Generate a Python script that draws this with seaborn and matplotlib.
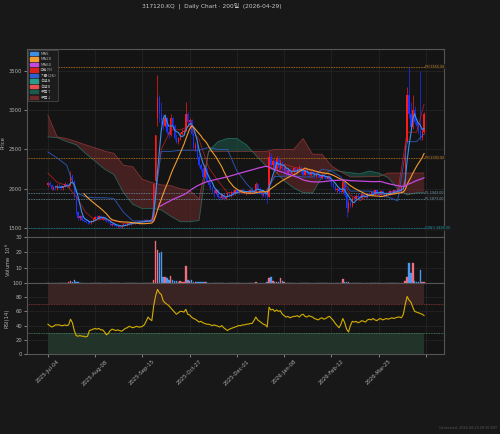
import numpy as np
import pandas as pd
import matplotlib
matplotlib.use("Agg")
import matplotlib.pyplot as plt
import seaborn as sns
from matplotlib.patches import Patch

# ---------------- data ----------------
title = "317120.KQ  |  Daily Chart · 200일  (2026-04-29)"
footer = "Generated: 2026-04-29 09:30 KST"
tick_pos = [0, 25, 50, 75, 100, 125, 150, 175, 200]
tick_labels = ["2025-Jul-04", "2025-Aug-08", "2025-Sep-15", "2025-Oct-27",
               "2025-Dec-01", "2026-Jan-08", "2026-Feb-12", "2026-Mar-25", ""]

opens = [
    2050, 2070, 2050, 2000, 2020, 2000, 2040, 2030, 2010, 2030,
    2060, 2040, 2050, 2170, 2100, 1900, 1700, 1630, 1650, 1600,
    1590, 1580, 1570, 1560, 1590, 1620, 1640, 1630, 1650, 1620,
    1640, 1600, 1580, 1570, 1540, 1550, 1540, 1520, 1530, 1510,
    1530, 1550, 1540, 1560, 1550, 1570, 1560, 1580, 1570, 1580,
    1570, 1590, 1580, 1600, 1580, 1600, 1600, 2100, 2900, 3150,
    2950, 2880, 2800, 2900, 2720, 2680, 2900, 2800, 2650, 2600,
    2640, 2700, 2720, 2740, 2950, 2850, 2880, 2700, 2520, 2560,
    2400, 2300, 2250, 2150, 2260, 2100, 2050, 2000, 1980, 1950,
    1980, 1900, 1880, 1920, 1870, 1900, 1940, 1910, 1960, 1930,
    1990, 1960, 1950, 1990, 1970, 1950, 1960, 1940, 1990, 1970,
    1950, 2060, 2000, 1960, 1920, 1950, 1920, 1900, 2400, 2300,
    2350, 2250, 2380, 2270, 2340, 2240, 2270, 2200, 2240, 2190,
    2220, 2260, 2210, 2250, 2280, 2220, 2180, 2230, 2200, 2170,
    2210, 2190, 2160, 2190, 2170, 2140, 2180, 2150, 2130, 2160,
    2110, 2060, 2030, 1990, 2000, 1970, 1960, 2080, 1920, 1760,
    1820, 1780, 1880, 1870, 1910, 1900, 1880, 1930, 1910, 1890,
    1930, 1920, 1960, 1930, 1980, 1950, 1920, 1970, 1940, 1910,
    1950, 1930, 1970, 1940, 1980, 1960, 2000, 1970, 2020, 2040,
    2600, 3200, 2950, 2780, 3000, 2850, 2800, 2740, 2650, 2720]
highs = [
    2090, 2100, 2060, 2030, 2040, 2060, 2070, 2050, 2040, 2080,
    2070, 2060, 2230, 2180, 2110, 1920, 1720, 1670, 1660, 1620,
    1610, 1600, 1590, 1600, 1630, 1650, 1660, 1670, 1660, 1650,
    1650, 1610, 1600, 1580, 1560, 1570, 1550, 1540, 1540, 1540,
    1560, 1560, 1570, 1570, 1580, 1580, 1590, 1600, 1590, 1600,
    1600, 1610, 1620, 1610, 1610, 1620, 2070, 2680, 3450, 3200,
    3100, 2950, 2950, 2920, 2780, 2950, 2910, 2820, 2700, 2660,
    2720, 2760, 2760, 3100, 2980, 2900, 2890, 2720, 2600, 2580,
    2450, 2330, 2280, 2300, 2270, 2120, 2080, 2040, 2000, 2000,
    1990, 1920, 1930, 1940, 1910, 1950, 1960, 1970, 1980, 2000,
    2010, 1980, 2000, 2010, 1990, 1970, 1980, 2000, 2020, 1990,
    2090, 2070, 2020, 1980, 1960, 1970, 1930, 2480, 2450, 2380,
    2370, 2420, 2400, 2380, 2350, 2290, 2280, 2260, 2260, 2240,
    2280, 2270, 2280, 2300, 2290, 2250, 2250, 2260, 2230, 2220,
    2240, 2210, 2200, 2210, 2190, 2200, 2200, 2170, 2180, 2170,
    2130, 2090, 2050, 2020, 2020, 1990, 2120, 2090, 1940, 1850,
    1850, 1900, 1920, 1930, 1940, 1920, 1940, 1950, 1930, 1940,
    1960, 1970, 1980, 1990, 2000, 1970, 1990, 1990, 1960, 1960,
    1970, 1980, 1990, 1990, 2000, 2010, 2020, 2030, 2060, 2600,
    3300, 3555, 3100, 3200, 3050, 2900, 2850, 3500, 2760, 2980]
lows = [
    2020, 2040, 1990, 1980, 1990, 1990, 2010, 1990, 1980, 2020,
    2020, 2010, 2040, 2080, 1880, 1680, 1600, 1600, 1590, 1570,
    1560, 1550, 1550, 1550, 1580, 1600, 1620, 1620, 1610, 1600,
    1590, 1570, 1560, 1530, 1520, 1530, 1510, 1500, 1495, 1500,
    1520, 1520, 1530, 1540, 1540, 1550, 1550, 1560, 1550, 1560,
    1560, 1570, 1570, 1570, 1570, 1580, 1590, 2050, 2800, 2850,
    2820, 2750, 2780, 2700, 2650, 2670, 2760, 2620, 2580, 2570,
    2620, 2680, 2690, 2730, 2800, 2780, 2680, 2500, 2480, 2380,
    2280, 2220, 2130, 2140, 2080, 2020, 1980, 1950, 1900, 1930,
    1880, 1850, 1870, 1860, 1850, 1890, 1900, 1900, 1920, 1920,
    1950, 1930, 1940, 1960, 1940, 1920, 1930, 1930, 1960, 1930,
    1940, 1990, 1950, 1900, 1910, 1900, 1815, 1890, 2280, 2260,
    2230, 2240, 2250, 2250, 2220, 2200, 2180, 2180, 2170, 2170,
    2200, 2190, 2200, 2220, 2200, 2160, 2170, 2190, 2150, 2160,
    2180, 2140, 2150, 2150, 2120, 2130, 2140, 2110, 2120, 2100,
    2040, 2010, 1970, 1960, 1950, 1940, 1950, 1900, 1640, 1700,
    1760, 1770, 1850, 1860, 1880, 1860, 1870, 1900, 1880, 1880,
    1910, 1910, 1920, 1920, 1940, 1900, 1910, 1930, 1890, 1900,
    1920, 1920, 1930, 1930, 1950, 1950, 1960, 1960, 2000, 2030,
    2580, 2900, 2750, 2760, 2820, 2760, 2700, 2620, 2620, 2700]
closes = [
    2070, 2050, 2000, 2020, 2000, 2040, 2030, 2010, 2030, 2060,
    2040, 2050, 2170, 2100, 1900, 1700, 1630, 1650, 1600, 1590,
    1580, 1570, 1560, 1590, 1620, 1640, 1630, 1650, 1620, 1640,
    1600, 1580, 1570, 1540, 1550, 1540, 1520, 1530, 1510, 1530,
    1550, 1540, 1560, 1550, 1570, 1560, 1580, 1570, 1580, 1570,
    1590, 1580, 1600, 1580, 1600, 1590, 2060, 2680, 3150, 2950,
    2880, 2800, 2900, 2720, 2680, 2900, 2800, 2650, 2600, 2640,
    2700, 2720, 2740, 2950, 2850, 2880, 2700, 2520, 2560, 2400,
    2300, 2250, 2150, 2260, 2100, 2050, 2000, 1980, 1950, 1980,
    1900, 1880, 1920, 1870, 1900, 1940, 1910, 1960, 1930, 1990,
    1960, 1950, 1990, 1970, 1950, 1960, 1940, 1990, 1970, 1950,
    2060, 2000, 1960, 1920, 1950, 1920, 1890, 2400, 2300, 2350,
    2250, 2380, 2270, 2340, 2240, 2270, 2200, 2240, 2190, 2220,
    2260, 2210, 2250, 2280, 2220, 2180, 2230, 2200, 2170, 2210,
    2190, 2160, 2190, 2170, 2140, 2180, 2150, 2130, 2160, 2110,
    2060, 2030, 1990, 2000, 1970, 1960, 2080, 1920, 1760, 1820,
    1780, 1880, 1870, 1910, 1900, 1880, 1930, 1910, 1890, 1930,
    1920, 1960, 1930, 1980, 1950, 1920, 1970, 1940, 1910, 1950,
    1930, 1970, 1940, 1980, 1960, 2000, 1970, 2020, 2040, 2550,
    3200, 2950, 2780, 3000, 2850, 2800, 2740, 2650, 2720, 2950]
volume_1e6 = [
    0.2, 0.3, 0.2, 0.2, 0.3, 0.2, 0.2, 0.3, 0.2, 0.2,
    0.3, 0.4, 1.0, 0.5, 2.0, 0.6, 0.4, 0.3, 0.3, 0.2,
    0.2, 0.2, 0.2, 0.3, 0.3, 0.3, 0.2, 0.2, 0.2, 0.2,
    0.2, 0.2, 0.2, 0.3, 0.2, 0.2, 0.2, 0.2, 0.3, 0.2,
    0.2, 0.2, 0.2, 0.2, 0.2, 0.2, 0.2, 0.2, 0.2, 0.2,
    0.2, 0.2, 0.3, 0.2, 0.3, 0.2, 2.0, 27.5, 21.5, 19.8,
    20.2, 4.2, 3.6, 3.0, 2.0, 4.4, 2.0, 1.5, 1.0, 0.6,
    1.0, 0.6, 0.6, 10.9, 2.0, 1.5, 2.0, 0.8, 0.5, 0.7,
    0.5, 0.4, 0.4, 0.5, 0.4, 0.3, 0.3, 0.3, 0.3, 0.3,
    0.3, 0.3, 0.2, 0.3, 0.2, 0.2, 0.2, 0.2, 0.2, 0.2,
    0.2, 0.2, 0.2, 0.2, 0.2, 0.2, 0.2, 0.2, 0.2, 0.2,
    0.5, 0.3, 0.2, 0.2, 0.2, 0.2, 0.4, 3.5, 4.0, 1.0,
    0.6, 0.7, 0.4, 3.5, 1.0, 0.4, 0.3, 0.3, 0.3, 0.3,
    0.3, 0.2, 0.2, 0.3, 0.2, 0.2, 0.2, 0.2, 0.2, 0.2,
    0.2, 0.2, 0.2, 0.2, 0.2, 0.2, 0.2, 0.2, 0.2, 0.2,
    0.3, 0.3, 0.3, 0.2, 0.2, 0.2, 2.5, 0.4, 0.8, 0.4,
    0.3, 0.3, 0.2, 0.2, 0.2, 0.2, 0.2, 0.2, 0.2, 0.2,
    0.2, 0.2, 0.2, 0.2, 0.2, 0.2, 0.2, 0.2, 0.2, 0.2,
    0.2, 0.2, 0.2, 0.2, 0.2, 0.2, 0.2, 0.2, 0.3, 1.5,
    4.0, 13.0, 6.7, 13.0, 1.0, 0.6, 0.5, 8.4, 0.8, 0.6]
rsi14 = [
    42, 40, 38, 39, 41, 41, 41, 40, 40, 41,
    40, 41, 49, 44, 33, 26, 25, 26, 25, 25,
    24, 25, 33, 34, 35, 36, 35, 36, 34, 34,
    31, 27, 29, 33, 35, 34, 33, 34, 33, 32,
    34, 36, 37, 39, 38, 37, 38, 39, 38, 38,
    39, 41, 46, 52, 49, 47, 68, 82, 91, 86,
    84, 75, 72, 70, 68, 65, 62, 59, 56, 58,
    60, 60, 59, 63, 56, 55, 52, 50, 49, 47,
    45, 46, 44, 43, 42, 42, 41, 40, 41, 40,
    39, 38, 40, 37, 35, 33, 35, 36, 37, 38,
    39, 40, 40, 41, 41, 42, 42, 43, 43, 47,
    52, 48, 46, 44, 42, 41, 38, 66, 62, 63,
    60, 62, 60, 61, 56, 54, 52, 53, 51, 52,
    53, 53, 54, 52, 55, 56, 53, 52, 54, 53,
    52, 50, 49, 48, 50, 51, 49, 50, 52, 53,
    50, 47, 43, 40, 37, 42, 50, 44, 35, 31,
    40, 46, 45, 46, 44, 45, 47, 46, 45, 48,
    49, 48, 50, 48, 47, 49, 50, 48, 49, 50,
    49, 50, 51, 50, 51, 52, 52, 51, 56, 70,
    81, 76, 73, 66, 60, 59, 58, 57, 56, 54]

# Ichimoku lines read every 5 sessions
ichi_idx = [0, 5, 10, 15, 20, 25, 30, 35, 40, 45, 50, 55, 60, 65, 70, 75, 80,
            85, 90, 95, 100, 105, 110, 115, 120, 125, 130, 135, 140, 145, 150,
            155, 160, 165, 170, 175, 180, 185, 190, 195, 199]
tenkan = [2200, 2080, 2040, 1900, 1700, 1600, 1610, 1590, 1560, 1560, 1580,
          1600, 2500, 2750, 2750, 2800, 2625, 2275, 2100, 1950, 1950, 1950,
          1960, 1950, 2165, 2315, 2275, 2250, 2230, 2200, 2180, 2125, 1920,
          1845, 1925, 1930, 1940, 1950, 2720, 2720, 3080]
kijun = [2470, 2390, 2300, 1950, 1895, 1885, 1885, 1875, 1700, 1590, 1590,
         1590, 2475, 2475, 2490, 2490, 2490, 2525, 2500, 2500, 2225, 2065,
         1940, 1940, 2155, 2160, 2165, 2150, 2150, 2250, 2225, 2150, 1970,
         1970, 1970, 1945, 1895, 1845, 2600, 2600, 2700]
span_a = [2660, 2650, 2600, 2560, 2450, 2350, 2250, 2180, 1950, 1800, 1745,
          1750, 1730, 1650, 1580, 1580, 1595, 2480, 2600, 2640, 2640, 2560,
          2425, 2300, 2225, 2100, 2010, 1950, 1945, 2150, 2240, 2220, 2205,
          2190, 2225, 2200, 2140, 2000, 1920, 1950, 1950]
span_b = [2940, 2660, 2640, 2600, 2560, 2520, 2480, 2450, 2300, 2280, 2120,
          2080, 2050, 2040, 2000, 1980, 1870, 2475, 2475, 2475, 2475, 2475,
          2475, 2475, 2500, 2500, 2500, 2640, 2440, 2440, 2290, 2215, 2150,
          2150, 2155, 2155, 2200, 2200, 2200, 2200, 2200]

ph_levels = [3555.0, 2393.0]
pl_levels = [1943.0, 1873.0]
low_52w = 1495.0

# ---------------- style ----------------
BG = "#181818"
AX = "#141414"
GRID = "#2a2a2a"
TXT = "#b0b0b0"
sns.set_theme(style="dark", rc={
    "figure.facecolor": BG, "axes.facecolor": AX, "axes.edgecolor": "#555555",
    "axes.grid": True, "grid.color": GRID, "grid.linewidth": 0.4,
    "xtick.color": TXT, "ytick.color": TXT, "text.color": TXT,
    "axes.labelcolor": TXT, "xtick.bottom": True, "ytick.left": True,
})
plt.rcParams['font.family'] = ['DejaVu Sans', 'Noto Sans CJK KR']

UP, DOWN = "#ff1a1a", "#1a33ff"
VUP, VDOWN = "#f06e7e", "#4a9af5"
C_MA5, C_MA20, C_MA60 = "#3d8fe6", "#f29b30", "#c448e0"
C_TEN, C_KIJ = "#d92020", "#2f5fcc"
C_SA, C_SB = "#2a9d8a", "#e85050"
C_UPCLOUD, C_DNCLOUD = "#1e5a4c", "#6e2a2a"

fig = plt.figure(figsize=(5.0, 4.34), dpi=100)
L, R = 27 / 500, 444 / 500
def box(top, bot):
    return [L, 1 - bot / 434, R - L, (bot - top) / 434]
axp = fig.add_axes(box(49, 237))
axv = fig.add_axes(box(237, 283), sharex=axp)
axr = fig.add_axes(box(283, 354), sharex=axp)

idx = np.arange(len(closes))
o = np.array(opens, float); h = np.array(highs, float)
l = np.array(lows, float); c = np.array(closes, float)
up = c >= o

# cloud
ia = np.array(ichi_idx, float); sa = np.array(span_a, float); sb = np.array(span_b, float)
axp.fill_between(ia, sa, sb, where=sa >= sb, interpolate=True, color=C_UPCLOUD, alpha=0.55, lw=0)
axp.fill_between(ia, sa, sb, where=sa < sb, interpolate=True, color=C_DNCLOUD, alpha=0.55, lw=0)
sns.lineplot(x=ia, y=sa, ax=axp, color=C_SA, lw=0.6, alpha=0.55)
sns.lineplot(x=ia, y=sb, ax=axp, color=C_SB, lw=0.6, alpha=0.45)

# candles
cols = [UP if u else DOWN for u in up]
axp.vlines(idx, l, h, colors=cols, lw=0.5, zorder=3)
axp.bar(idx, np.maximum(np.abs(c - o), 8), bottom=np.minimum(o, c), width=0.7,
        color=cols, lw=0, zorder=4)

# ichimoku conversion / base
sns.lineplot(x=ia, y=np.array(tenkan, float), ax=axp, color=C_TEN, lw=0.6, alpha=0.75, zorder=5)
sns.lineplot(x=ia, y=np.array(kijun, float), ax=axp, color=C_KIJ, lw=0.7, alpha=0.8, zorder=5)

# moving averages
cs = pd.Series(c)
for w, col, lw in [(5, C_MA5, 0.8), (20, C_MA20, 0.8), (60, C_MA60, 0.9)]:
    ma = cs.rolling(w).mean()
    m = ma.notna().values
    sns.lineplot(x=idx[m], y=ma.values[m], ax=axp, color=col, lw=lw, zorder=6)

# horizontal levels
lvl = [(v, "PH", "#c7801c") for v in ph_levels] + [(v, "PL", "#6f93a6") for v in pl_levels] \
      + [(low_52w, "52W L", "#1592a8")]
for v, name, col in lvl:
    axp.axhline(v, color=col, lw=0.6, ls=(0, (1, 1)), zorder=2)
    axp.text(199.6, v, f"{name} {v:.2f}", color=col, fontsize=2.3, va="center", ha="left",
             bbox=dict(boxstyle="square,pad=0.15", fc="#1c1c1c", ec="none", alpha=0.8), zorder=7)

axp.set_ylim(1385, 3780)
axp.set_yticks([1500, 2000, 2500, 3000, 3500])
axp.set_ylabel("Price", fontsize=3.8, labelpad=2)

handles = [Patch(color=C_MA5, label="MA5"), Patch(color=C_MA20, label="MA20"),
           Patch(color=C_MA60, label="MA60"), Patch(color=C_TEN, label="전환(9)"),
           Patch(color=C_KIJ, label="기준(26)"), Patch(color=C_SA, label="선행A"),
           Patch(color=C_SB, label="선행B"), Patch(color=C_UPCLOUD, label="구름↑"),
           Patch(color=C_DNCLOUD, label="구름↓")]
leg = axp.legend(handles=handles, loc="upper left", fontsize=2.9, frameon=True,
                 facecolor="#1e1e1e", edgecolor="#555555", framealpha=0.9,
                 handlelength=2.0, handleheight=0.9, labelspacing=0.35, borderpad=0.4,
                 handletextpad=0.6, borderaxespad=0.3)
leg.get_frame().set_linewidth(0.5)
for t in leg.get_texts():
    t.set_color(TXT)

# volume
vcols = [VUP if u else VDOWN for u in up]
axv.bar(idx, volume_1e6, width=0.8, color=vcols, edgecolor=vcols, lw=0.25, zorder=3)
axv.set_ylim(0, 30)
axv.set_yticks([10, 20, 30])
axv.set_ylabel("Volume  $10^6$", fontsize=3.8, labelpad=2)

# RSI
axr.fill_between([0, 199], 70, 100, color="#3a2323", lw=0, zorder=1)
axr.fill_between([0, 199], 0, 30, color="#22332a", lw=0, zorder=1)
axr.axhline(70, color="#9a3b3b", lw=0.6, ls=(0, (1, 1)), zorder=2)
axr.axhline(30, color="#4f8a62", lw=0.6, ls=(0, (1, 1)), zorder=2)
sns.lineplot(x=idx, y=np.array(rsi14, float), ax=axr, color="#d4af00", lw=0.8, zorder=3)
axr.set_ylim(0, 100)
axr.set_yticks([0, 20, 40, 60, 80, 100])
axr.set_ylabel("RSI(14)", fontsize=3.8, labelpad=2)

axr.set_xlim(-11, 209.5)
axr.set_xticks(tick_pos)
axr.set_xticklabels(tick_labels, rotation=45, ha="center", fontsize=3.8)

for ax in (axp, axv, axr):
    ax.set_xlabel("")
    ax.tick_params(axis="both", labelsize=3.8, length=2, width=0.5, pad=1.5, colors=TXT)
    ax.grid(True, color=GRID, lw=0.4)
    for s in ax.spines.values():
        s.set_color("#555555"); s.set_linewidth(0.8)
for ax in (axp, axv):
    plt.setp(ax.get_xticklabels(), visible=False)
    ax.tick_params(axis="x", length=0)

fig.text(212 / 500, 1 - 6 / 434, title, ha="center", va="center", fontsize=4.2, color="#c8c8c8")
fig.text(497 / 500, 1 - 428 / 434, footer, ha="right", va="center", fontsize=2.4, color="#555555")

fig.savefig("out.png", dpi=100, facecolor=BG)
